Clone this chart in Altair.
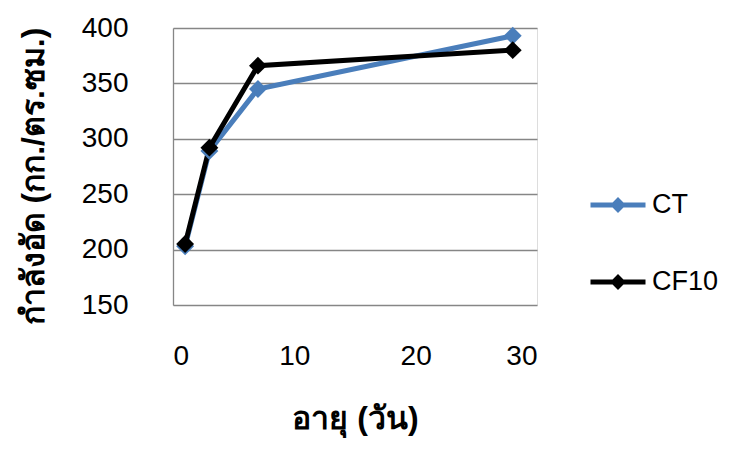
import altair as alt
import pandas as pd

days = [1, 3, 7, 28]
ct = [203, 289, 345, 393]
cf10 = [205, 292, 366, 380]
series = ["CT", "CF10"]
colors = ["#4A7EBB", "#000000"]
x_ticks = [0, 10, 20, 30]
y_ticks = [150, 200, 250, 300, 350, 400]

rows = []
for name, vals in zip(series, [ct, cf10]):
    for d, v in zip(days, vals):
        rows.append({"day": d, "strength": v, "series": name})
df = pd.DataFrame(rows)

FONT = "Liberation Sans"
legend_path = "M-1,0L1,0M-0.16,0L0,-0.16L0.16,0L0,0.16Z"

x = alt.X(
    "day:Q",
    scale=alt.Scale(domain=[0, 30], nice=False, zero=False),
    axis=alt.Axis(
        values=x_ticks, grid=False, domain=False, ticks=False,
        labelPadding=37, labelFontSize=28, labelFont=FONT, labelColor="#000000",
        title="อายุ (วัน)", titleFontSize=32, titleFontWeight="bold",
        titleColor="#000000", titleBaseline="middle", titleY=113,
    ),
)
y = alt.Y(
    "strength:Q",
    scale=alt.Scale(domain=[150, 400], nice=False, zero=False),
    axis=alt.Axis(
        values=y_ticks, grid=True, gridColor="#868686", gridWidth=1.3,
        domain=True, domainColor="#868686", domainWidth=1.3, ticks=False,
        labelPadding=45, labelFontSize=28, labelFont=FONT, labelColor="#000000",
        title="กำลังอัด (กก./ตร.ซม.)", titleFontSize=32, titleFontWeight="bold",
        titleColor="#000000", titleX=-140, titleY=148, titleBaseline="middle",
    ),
)
color = alt.Color(
    "series:N",
    scale=alt.Scale(domain=series, range=colors),
    sort=series,
    legend=alt.Legend(
        title=None, orient="none", legendX=415, legendY=147,
        symbolType=legend_path, symbolSize=3025, symbolStrokeWidth=5,
        labelFontSize=27, labelFont=FONT, labelColor="#000000",
        labelOffset=4, rowPadding=32, labelLimit=400,
    ),
)

lines = alt.Chart(df).mark_line(strokeWidth=5).encode(
    x=x, y=y, color=color, order="day:Q"
)
points = alt.Chart(df).mark_point(
    shape="diamond", filled=True, opacity=1, size=320
).encode(x=x, y=y, color=alt.Color("series:N", scale=alt.Scale(domain=series, range=colors), legend=None))

chart = alt.layer(lines, points).properties(
    width=364, height=277,
    autosize=alt.AutoSizeParams(type="none"),
    padding={"left": 165, "top": 20, "right": 187, "bottom": 140},
).configure_view(stroke=None).configure(background="white")

chart.save("out.html", embed_options={"renderer": "svg", "actions": False})
